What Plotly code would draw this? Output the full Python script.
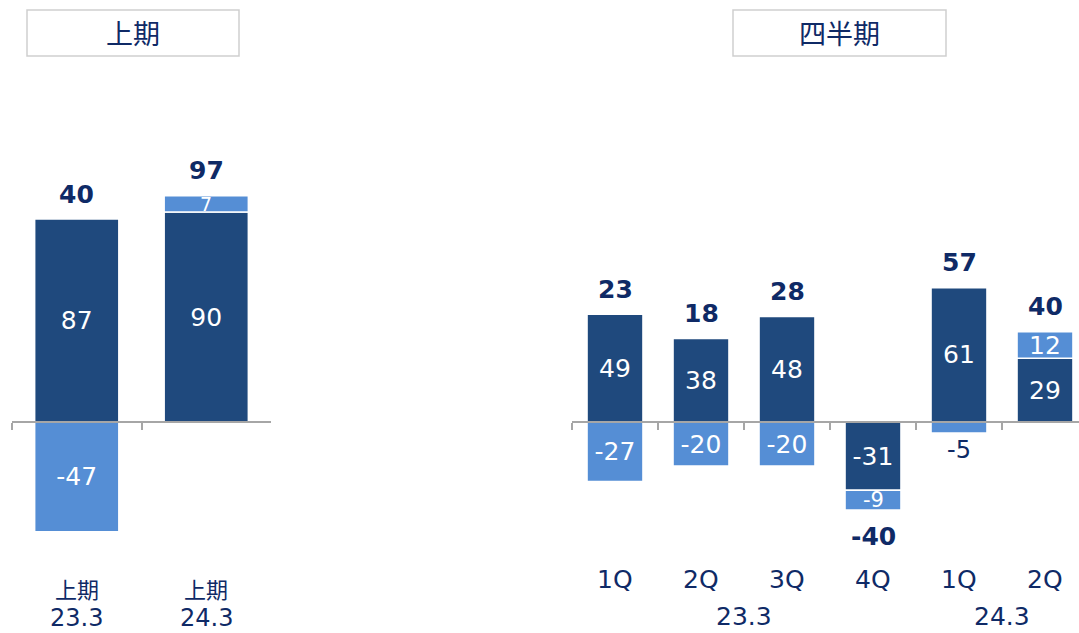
import plotly.graph_objects as go

# Half-year panel (上期)
half_categories = ["上期 23.3", "上期 24.3"]
half_period = ["上期", "上期"]
half_year = ["23.3", "24.3"]
half_dark = [87, 90]
half_light = [-47, 7]
half_total = [40, 97]

# Quarterly panel (四半期)
q_categories = ["23.3 1Q", "23.3 2Q", "23.3 3Q", "23.3 4Q", "24.3 1Q", "24.3 2Q"]
q_labels = ["1Q", "2Q", "3Q", "4Q", "1Q", "2Q"]
q_dark = [49, 38, 48, -31, 61, 29]
q_light = [-27, -20, -20, -9, -5, 12]
q_total = [23, 18, 28, -40, 57, 40]
q_year_groups = [("23.3", 1.5), ("24.3", 4.5)]

DARK = "#1F497D"
LIGHT = "#558ED5"
NAVY = "#0F2A66"
AXIS = "#A6A6A6"
FONT = "DejaVu Sans, Noto Sans CJK JP, sans-serif"
CJK = "Noto Sans CJK JP, sans-serif"

W, H = 1079, 633
ZERO_Y = 1 - 422 / H  # paper position of the zero line

fig = go.Figure()


def label(**kw):
    fig.add_annotation(showarrow=False, xanchor="center", yanchor="middle", **kw)


def add_panel(cats, dark, light, totals, xa, ya, light_pos, light_sizes):
    fig.add_trace(go.Bar(
        x=cats, y=dark, xaxis=xa, yaxis=ya, width=0.65,
        marker=dict(color=DARK, line=dict(color="white", width=1.5)),
        text=[f"{v}" for v in dark], textposition="inside",
        insidetextanchor="middle", textangle=0,
        textfont=dict(family=FONT, size=25, color="white"),
        constraintext="none", cliponaxis=False, showlegend=False,
        hoverinfo="skip",
    ))
    # thin segments get their label as an overlay so it keeps its size
    pos = ["none" if p == "thin" else p for p in light_pos]
    colors = [NAVY if p == "outside" else "white" for p in light_pos]
    fig.add_trace(go.Bar(
        x=cats, y=light, xaxis=xa, yaxis=ya, width=0.65,
        marker=dict(color=LIGHT, line=dict(color="white", width=1.5)),
        text=[f"{v}" for v in light], textposition=pos,
        insidetextanchor="middle", textangle=0,
        textfont=dict(family=FONT, size=light_sizes, color=colors),
        constraintext="none", cliponaxis=False, showlegend=False,
        hoverinfo="skip",
    ))
    for c, d, l, p, s in zip(cats, dark, light, light_pos, light_sizes):
        if p == "thin":
            base = d if (d > 0) == (l > 0) else 0
            label(x=c, y=base + l / 2, xref=xa, yref=ya, text=f"{l}",
                  font=dict(family=FONT, size=s, color="white"))
    # Totals above the positive stack, or below the negative one
    for c, d, l, total in zip(cats, dark, light, totals):
        if total >= 0:
            end = sum(v for v in (d, l) if v > 0)
            shift = 25
        else:
            end = sum(v for v in (d, l) if v < 0)
            shift = -26
        label(x=c, y=end, xref=xa, yref=ya, yshift=shift,
              text=f"<b>{total}</b>",
              font=dict(family=FONT, size=25, color=NAVY))


add_panel(half_categories, half_dark, half_light, half_total, "x", "y",
          ["inside", "thin"], [25, 19])
add_panel(q_categories, q_dark, q_light, q_total, "x2", "y2",
          ["inside", "inside", "inside", "thin", "outside", "inside"],
          [25, 25, 25, 21, 24, 25])

# Category labels under the half-year bars
for c, p, yr in zip(half_categories, half_period, half_year):
    label(x=c, y=1 - 588 / H, xref="x", yref="paper", text=p,
          font=dict(family=CJK, size=22, color=NAVY))
    label(x=c, y=1 - 618 / H, xref="x", yref="paper", text=yr,
          font=dict(family=FONT, size=24, color=NAVY))

# Quarter labels and fiscal-year group labels
for c, q in zip(q_categories, q_labels):
    label(x=c, y=1 - 579 / H, xref="x2", yref="paper", text=q,
          font=dict(family=FONT, size=25, color=NAVY))
for yr, pos in q_year_groups:
    label(x=pos, y=1 - 616 / H, xref="x2", yref="paper", text=yr,
          font=dict(family=FONT, size=25, color=NAVY))

# Panel title boxes
for title, x0, x1 in [("上期", 27, 239), ("四半期", 733, 946)]:
    fig.add_shape(type="rect", xref="paper", yref="paper",
                  x0=x0 / W, x1=x1 / W, y0=1 - 56 / H, y1=1 - 10 / H,
                  line=dict(color="#CFCFCF", width=1.5), fillcolor="white")
    label(x=(x0 + x1) / 2 / W, y=1 - 33 / H, xref="paper", yref="paper",
          text=title, font=dict(family=CJK, size=27, color=NAVY))

axis_common = dict(
    type="category", anchor="free", position=ZERO_Y,
    showline=True, linecolor=AXIS, linewidth=1.5,
    ticks="outside", tickson="boundaries", ticklen=7, tickwidth=1.5,
    tickcolor=AXIS, showticklabels=False, showgrid=False, zeroline=False,
    fixedrange=True,
)

fig.update_layout(
    width=W, height=H,
    margin=dict(l=0, r=0, t=0, b=0),
    paper_bgcolor="white", plot_bgcolor="white",
    barmode="relative",
    xaxis=dict(domain=[12 / W, 271 / W], range=[-0.5, 1.5], **axis_common),
    xaxis2=dict(domain=[572 / W, 1.0], range=[-0.5, -0.5 + (W - 572) / 86],
                **axis_common),
    yaxis=dict(domain=[0, 1], range=[-211 / 2.333, 422 / 2.333],
               visible=False, fixedrange=True),
    yaxis2=dict(domain=[0, 1], range=[-211 / 2.2, 422 / 2.2],
                visible=False, fixedrange=True, anchor="x2"),
)

fig.write_html("out.html")
